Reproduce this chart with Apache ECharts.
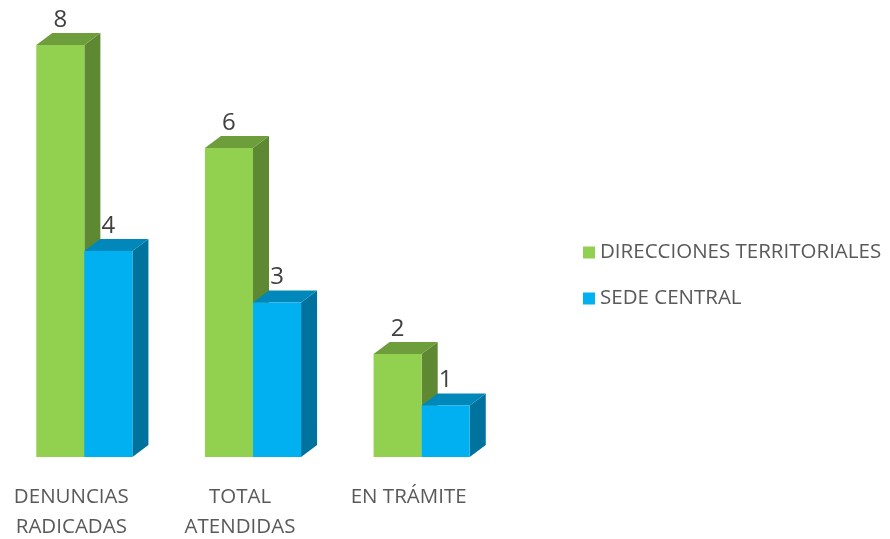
<!DOCTYPE html>
<html>
<head>
<meta charset="utf-8">
<script src="https://cdn.jsdelivr.net/npm/echarts@6/dist/echarts.min.js"></script>
<style>
  html, body { margin: 0; padding: 0; background: #fff; }
  #chart { width: 890px; height: 539px; }
</style>
</head>
<body>
<div id="chart"></div>
<script type="text/javascript">
// datos del grafico
var categorias = ['DENUNCIAS\nRADICADAS', 'TOTAL\nATENDIDAS', 'EN TRÁMITE'];
var direcciones = [8, 6, 2];
var sede = [4, 3, 1];
var nombres = ['DIRECCIONES TERRITORIALES', 'SEDE CENTRAL'];

// colores: frente, tapa, lado
var caras = [
  ['#92D050', '#6E9D3C', '#5E8832'],
  ['#00B0F0', '#0088BA', '#00729E']
];

function barra3d(idx) {
  return function (params, api) {
    var cat = api.value(0), val = api.value(1);
    var base = api.coord([cat, 0]);
    var tope = api.coord([cat, val]);
    var banda = api.size([1, 0])[0];
    var bw = banda * 0.285;
    var dx = bw / 3, dy = bw / 4;
    var x0 = idx === 0 ? base[0] - bw : base[0];
    var ty = tope[1], by = base[1];
    var c = caras[idx];
    return {
      type: 'group',
      children: [
        { type: 'polygon', shape: { points: [[x0 + bw, ty], [x0 + bw + dx, ty - dy], [x0 + bw + dx, by - dy], [x0 + bw, by]] }, style: { fill: c[2] } },
        { type: 'polygon', shape: { points: [[x0, ty], [x0 + dx, ty - dy], [x0 + bw + dx, ty - dy], [x0 + bw, ty]] }, style: { fill: c[1] } },
        { type: 'rect', shape: { x: x0, y: ty, width: bw, height: by - ty }, style: { fill: c[0] } },
        { type: 'text', style: { text: String(val), x: x0 + bw / 2, y: ty - dy - 1, align: 'center', verticalAlign: 'bottom', fill: '#404040', fontSize: 24, fontFamily: 'Open Sans' } }
      ]
    };
  };
}

function datos(arr) {
  return arr.map(function (v, i) { return [i, v]; });
}

var chart = echarts.init(document.getElementById('chart'));
var option = {
  animation: false,
  textStyle: { fontFamily: 'Open Sans' },
  grid: { left: 0, right: 384, top: 45, bottom: 82, containLabel: false, outerBoundsMode: 'none' },
  legend: {
    orient: 'vertical',
    left: 578,
    top: 237,
    itemWidth: 12,
    itemHeight: 12,
    itemGap: 25,
    icon: 'rect',
    textStyle: { color: '#595959', fontSize: 20.5, fontFamily: 'Open Sans' },
    data: nombres
  },
  xAxis: {
    type: 'category',
    data: categorias,
    axisLine: { show: false },
    axisTick: { show: false },
    axisLabel: {
      color: '#595959',
      fontSize: 20.5,
      lineHeight: 30,
      margin: 25,
      padding: [0, 26, 0, 0]
    }
  },
  yAxis: { type: 'value', min: 0, max: 8, show: false },
  series: [
    { name: nombres[0], type: 'custom', renderItem: barra3d(0), itemStyle: { color: caras[0][0] }, data: datos(direcciones) },
    { name: nombres[1], type: 'custom', renderItem: barra3d(1), itemStyle: { color: caras[1][0] }, data: datos(sede) }
  ]
};
chart.setOption(option);
</script>
</body>
</html>
